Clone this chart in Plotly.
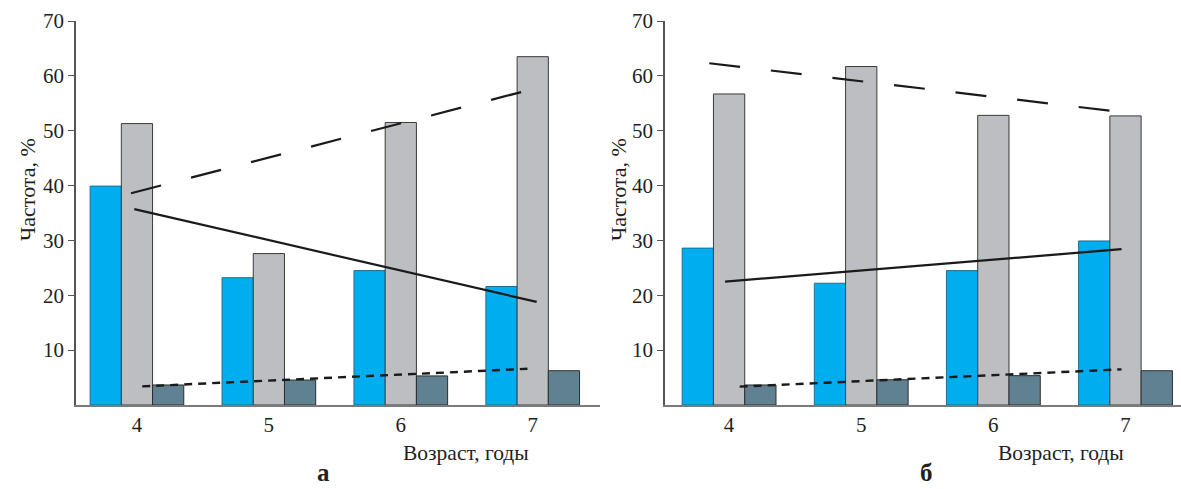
import plotly.graph_objects as go

ages = [4, 5, 6, 7]
age_labels = ["4", "5", "6", "7"]

# Panel а
a_blue = [39.9, 23.2, 24.5, 21.6]
a_gray = [51.3, 27.6, 51.5, 63.5]
a_dark = [3.65, 4.55, 5.3, 6.25]
a_solid_x = [3.98, 7.03]
a_solid_y = [35.7, 18.8]
a_long_x = [3.955, 6.97]
a_long_y = [38.6, 57.4]
a_short_x = [4.04, 6.96]
a_short_y = [3.4, 6.6]

# Panel б
b_blue = [28.6, 22.2, 24.5, 29.9]
b_gray = [56.7, 61.7, 52.8, 52.7]
b_dark = [3.65, 4.6, 5.35, 6.25]
b_solid_x = [3.97, 6.97]
b_solid_y = [22.5, 28.4]
b_long_x = [3.85, 6.9]
b_long_y = [62.3, 53.6]
b_short_x = [4.08, 6.97]
b_short_y = [3.35, 6.5]

y_ticks = [10, 20, 30, 40, 50, 60, 70]

BLUE = "#00ADEE"
GRAY = "#BCBEC1"
DARK = "#5F8191"
INK = "#231F20"
AXIS = "#555555"
FONT = "Liberation Serif"

W, H = 1181, 489

fig = go.Figure()

def add_panel(xa, ya, blue, gray, dark, sx, sy, lx, ly, dx, dy):
    for vals, col, lc in [(blue, BLUE, "#1D6F93"), (gray, GRAY, "#3A3A3A"), (dark, DARK, "#2E2E2E")]:
        fig.add_trace(go.Bar(x=ages, y=vals, marker=dict(color=col, line=dict(color=lc, width=1)),
                             xaxis=xa, yaxis=ya, showlegend=False))
    fig.add_trace(go.Scatter(x=lx, y=ly, mode="lines", line=dict(color="#1A1A1A", width=2.2, dash="31px,31px"),
                             xaxis=xa, yaxis=ya, showlegend=False))
    fig.add_trace(go.Scatter(x=sx, y=sy, mode="lines", line=dict(color="#1A1A1A", width=2.2),
                             xaxis=xa, yaxis=ya, showlegend=False))
    fig.add_trace(go.Scatter(x=dx, y=dy, mode="lines", line=dict(color="#1A1A1A", width=2.4, dash="8px,6px"),
                             xaxis=xa, yaxis=ya, showlegend=False))

add_panel("x", "y", a_blue, a_gray, a_dark, a_solid_x, a_solid_y, a_long_x, a_long_y, a_short_x, a_short_y)
add_panel("x2", "y2", b_blue, b_gray, b_dark, b_solid_x, b_solid_y, b_long_x, b_long_y, b_short_x, b_short_y)

y_dom = [(H - 405) / H, (H - 21) / H]

xcommon = dict(tickmode="array", tickvals=ages, ticktext=age_labels, showgrid=False, zeroline=False,
               showline=True, linecolor="#7A7A7A", linewidth=2, ticks="", ticklen=0, automargin=False,
               tickfont=dict(family=FONT, size=21, color=INK))
ycommon = dict(range=[0, 70], tickmode="array", tickvals=y_ticks, showgrid=False, zeroline=False,
               showline=True, linecolor=AXIS, linewidth=1.5, ticks="outside", ticklen=6, tickcolor=AXIS,
               tickwidth=1, automargin=False, tickfont=dict(family=FONT, size=21, color=INK), domain=y_dom)

fig.update_layout(
    width=W, height=H, margin=dict(l=0, r=0, t=0, b=0, pad=0, autoexpand=False),
    paper_bgcolor="white", plot_bgcolor="white",
    barmode="group", bargap=0.29, bargroupgap=0,
    xaxis=dict(domain=[76 / W, 600 / W], range=[3.538, 7.51], anchor="y", **xcommon),
    yaxis=dict(anchor="x", **ycommon),
    xaxis2=dict(domain=[665 / W, 1.0], range=[3.515, 7.42], anchor="y2", **xcommon),
    yaxis2=dict(anchor="x2", **ycommon),
)

def ann(text, x, y, size, bold=False, angle=0, yanchor="middle"):
    fig.add_annotation(text=("<b>%s</b>" % text) if bold else text, x=x / W, y=1 - y / H,
                       xref="paper", yref="paper", showarrow=False, textangle=angle,
                       font=dict(family=FONT, size=size, color=INK), xanchor="center", yanchor=yanchor)

ann("Частота, %", 27, 190, 22, angle=-90)
ann("Частота, %", 618, 190, 22, angle=-90)
ann("Возраст, годы", 466, 453, 21.5)
ann("Возраст, годы", 1061, 453, 21.5)
ann("а", 323, 488, 25, bold=True, yanchor="bottom")
ann("б", 926, 488, 25, bold=True, yanchor="bottom")

fig.write_html("out.html", config={"displayModeBar": False},
               post_script="document.body.style.margin='0';document.body.style.overflow='hidden';")
